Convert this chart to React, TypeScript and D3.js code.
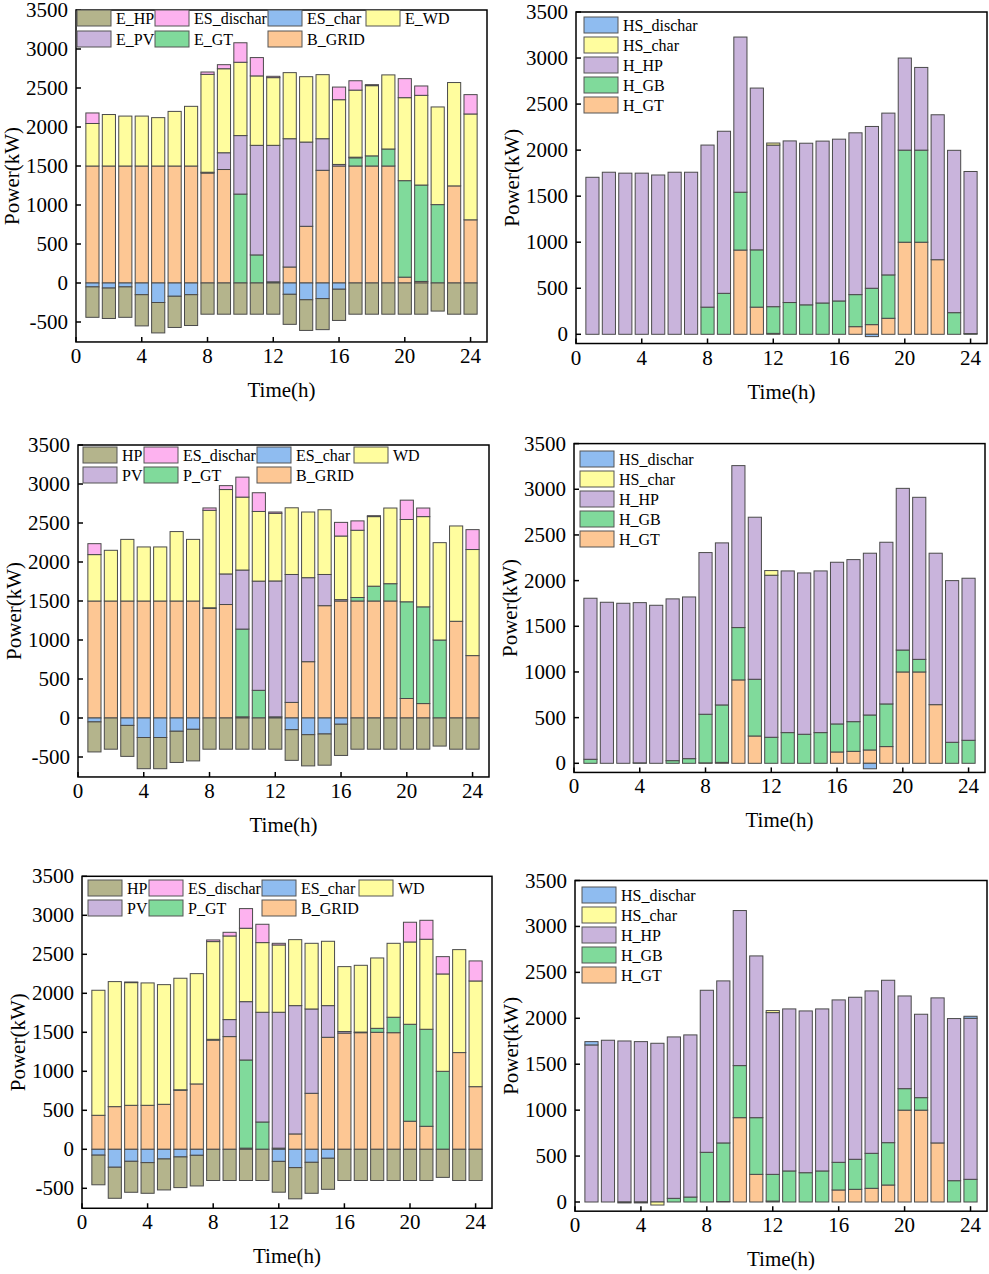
import React from 'react';
import * as d3 from 'd3';

// ---- data (kW), hours 1..24 ----
const HOURS = d3.range(1, 25);
const X_TICKS = [0, 4, 8, 12, 16, 20, 24];
const Y_TICKS_E = [-500, 0, 500, 1000, 1500, 2000, 2500, 3000, 3500];
const Y_TICKS_H = [0, 500, 1000, 1500, 2000, 2500, 3000, 3500];

// case 1 electric
const A_GRID = [1500, 1500, 1500, 1500, 1500, 1500, 1500, 1410, 1455, 0, 0, 0, 205, 727, 1445, 1500, 1500, 1500, 1500, 75, 20, 0, 1245, 810];
const A_GT = [0, 0, 0, 0, 0, 0, 0, 10, 0, 1140, 360, 15, 0, 0, 0, 0, 105, 130, 218, 1237, 1236, 1005, 0, 0];
const A_PV = [0, 0, 0, 0, 0, 0, 0, 0, 215, 750, 1405, 1750, 1645, 1080, 405, 20, 8, 0, 0, 0, 0, 0, 0, 0];
const A_WD = [545, 660, 640, 640, 620, 700, 765, 1255, 1077, 940, 890, 868, 847, 838, 821, 830, 860, 900, 950, 1064, 1150, 1252, 1325, 1357];
const A_DIS = [135, 0, 0, 0, 0, 0, 0, 30, 52, 250, 235, 17, 0, 0, 0, 162, 120, 13, 0, 244, 120, 0, 0, 248];
const A_CHAR = [-50, -65, -50, -150, -250, -170, -150, 0, 0, 0, 0, 0, -145, -215, -200, -80, 0, 0, 0, 0, 0, 0, 0, 0];
const A_HP = [-390, -390, -390, -400, -390, -400, -395, -400, -400, -400, -400, -400, -385, -393, -398, -400, -400, -400, -400, -400, -400, -360, -400, -400];

// case 1 heat
const HA_GT = [0, 0, 0, 0, 0, 0, 0, 0, 0, 915, 295, 10, 0, 0, 0, 0, 83, 105, 174, 1000, 1000, 810, 0, 0];
const HA_GB = [0, 0, 0, 0, 0, 0, 0, 295, 445, 628, 622, 290, 345, 320, 340, 362, 348, 395, 471, 1000, 1000, 0, 235, 8];
const HA_HP = [1705, 1760, 1750, 1750, 1730, 1760, 1760, 1760, 1760, 1685, 1757, 1755, 1755, 1755, 1758, 1757, 1757, 1757, 1757, 1000, 898, 1574, 1763, 1760];
const HA_CHAR = [0, 0, 0, 0, 0, 0, 0, 0, 0, 0, 0, 22, 0, 0, 0, 0, 0, 0, 0, 0, 0, 0, 0, 0];
const HA_DIS = [0, 0, 0, 0, 0, 0, 0, 0, 0, 0, 0, 0, 0, 0, 0, 0, 0, -25, 0, 0, 0, 0, 0, 0];

// case 2 electric
const B_GRID = [1500, 1500, 1500, 1500, 1500, 1500, 1500, 1405, 1455, 15, 0, 0, 200, 722, 1440, 1500, 1500, 1500, 1500, 250, 185, 0, 1240, 800];
const B_GT = [0, 0, 0, 0, 0, 0, 0, 8, 0, 1125, 355, 15, 0, 0, 0, 0, 45, 190, 222, 1240, 1240, 1000, 0, 0];
const B_PV = [0, 0, 0, 0, 0, 0, 0, 0, 392, 757, 1400, 1742, 1640, 1077, 400, 18, 0, 0, 0, 0, 0, 0, 0, 0];
const B_WD = [595, 650, 790, 693, 693, 890, 790, 1250, 1082, 935, 893, 867, 855, 842, 830, 815, 862, 892, 970, 1055, 1157, 1248, 1222, 1360];
const B_DIS = [140, 0, 0, 0, 0, 0, 0, 30, 50, 256, 240, 17, 0, 0, 0, 175, 120, 12, 0, 248, 110, 0, 0, 255];
const B_CHAR = [-50, 0, -95, -250, -250, -170, -145, 0, 0, 0, 0, 0, -150, -214, -205, -80, 0, 0, 0, 0, 0, 0, 0, 0];
const B_HP = [-385, -400, -397, -400, -400, -400, -405, -400, -400, -400, -400, -400, -393, -400, -400, -400, -400, -400, -400, -400, -400, -360, -400, -400];

// case 2 heat
const HB_GT = [0, 0, 0, 0, 0, 0, 0, 5, 10, 913, 299, 0, 0, 0, 0, 124, 131, 146, 183, 1000, 1000, 642, 0, 0];
const HB_GB = [44, 0, 0, 5, 0, 29, 51, 532, 629, 573, 621, 285, 336, 318, 336, 307, 325, 383, 467, 240, 138, 0, 230, 252];
const HB_HP = [1763, 1763, 1752, 1754, 1730, 1771, 1770, 1770, 1774, 1773, 1774, 1774, 1770, 1766, 1770, 1770, 1774, 1771, 1770, 1770, 1774, 1658, 1770, 1774];
const HB_CHAR = [0, 0, 0, 0, 0, 0, 0, 0, 0, 0, 0, 51, 0, 0, 0, 0, 0, 0, 0, 0, 0, 0, 0, 0];
const HB_DIS = [0, 0, 0, 0, 0, 0, 0, 0, 0, 0, 0, 0, 0, 0, 0, 0, 0, -60, 0, 0, 0, 0, 0, 0];

// case 3 electric
const C_GRID = [436, 547, 564, 564, 577, 758, 838, 1400, 1445, 15, 0, 0, 197, 718, 1436, 1490, 1495, 1500, 1495, 360, 295, 0, 1240, 803];
const C_GT = [0, 0, 0, 0, 0, 5, 0, 10, 0, 1130, 350, 15, 0, 0, 0, 0, 0, 51, 198, 1243, 1244, 1000, 0, 0];
const C_PV = [0, 0, 0, 0, 0, 0, 0, 0, 218, 748, 1407, 1742, 1645, 1081, 406, 20, 8, 0, 0, 0, 0, 0, 0, 0];
const C_WD = [1603, 1603, 1573, 1569, 1534, 1430, 1414, 1253, 1072, 941, 893, 863, 846, 842, 825, 832, 856, 902, 948, 1055, 1154, 1248, 1320, 1355];
const C_DIS = [0, 0, 8, 0, 0, 0, 0, 21, 47, 252, 235, 21, 0, 0, 0, 0, 0, 0, 0, 253, 243, 222, 0, 257];
const C_CHAR = [-75, -230, -154, -171, -124, -98, -77, 0, 0, 0, 0, -155, -235, -167, -115, 0, 0, 0, 0, 0, 0, 0, 0, 0];
const C_HP = [-380, -398, -397, -393, -397, -393, -393, -400, -400, -400, -400, -395, -400, -397, -398, -400, -400, -400, -400, -400, -400, -360, -400, -400];

// case 3 heat
const HC_GT = [0, 0, 0, 0, 0, 0, 0, 0, 5, 918, 301, 10, 0, 0, 0, 131, 138, 149, 185, 1000, 1000, 643, 0, 0];
const HC_GB = [0, 0, 0, 0, 0, 40, 54, 541, 638, 567, 617, 291, 338, 319, 338, 301, 327, 381, 461, 234, 136, 0, 232, 247];
const HC_HP = [1710, 1761, 1753, 1746, 1728, 1757, 1765, 1764, 1764, 1688, 1761, 1761, 1764, 1761, 1764, 1768, 1764, 1768, 1768, 1009, 908, 1579, 1765, 1753];
const HC_CHAR = [0, 0, -10, -10, -33, 0, 0, 0, 0, 0, 0, 22, 0, 0, 0, 0, 0, 0, 0, 0, 0, 0, 0, 0];
const HC_DIS = [36, 0, 0, 0, 0, 0, 0, 0, 0, 0, 0, 0, 0, 0, 0, 0, 0, 0, 0, 0, 0, 0, 0, 22];

const COL = {
    hp: '#b4b48c', dis: '#fdb2ef', char: '#8fbcf0', wd: '#fffd9e',
    pv: '#c9b4dc', gt: '#80da9b', grid: '#fdc794',
};
const FONT = '"Liberation Serif", "Times New Roman", serif';

type Series = { key: string; color: string; values: number[] };
type LegendItem = { label: string; color: string; x: number; y: number };
type Frame = { x0: number; x1: number; yTop: number; yZero: number; yMin: number };

function Panel({ f, yTicks, series, legend }: { f: Frame; yTicks: number[]; series: Series[]; legend: LegendItem[] }) {
    const yBot = f.yZero + (f.yZero - f.yTop) / 3500 * (-f.yMin);
    const x = d3.scaleLinear().domain([0, 25]).range([f.x0, f.x1]);
    const y = d3.scaleLinear().domain([f.yMin, 3500]).range([yBot, f.yTop]);
    const rows = HOURS.map((h, i) => {
        const r: any = { hour: h };
        series.forEach(s => { r[s.key] = s.values[i]; });
        return r;
    });
    const stacked = d3.stack<any>().keys(series.map(s => s.key)).offset(d3.stackOffsetDiverging)(rows);
    const half = 0.4;
    return (
        <g fontFamily={FONT}>
            {stacked.map((layer, li) => (
                <g key={layer.key} fill={series[li].color} stroke="#4a4a4a" strokeWidth={1}>
                    {layer.map((d, i) => {
                        if (d[1] - d[0] === 0) return null;
                        const h = rows[i].hour;
                        return <rect key={i} x={x(h - half)} width={x(h + half) - x(h - half)}
                            y={y(Math.max(d[0], d[1]))} height={Math.abs(y(d[0]) - y(d[1]))} />;
                    })}
                </g>
            ))}
            <rect x={f.x0} y={f.yTop} width={f.x1 - f.x0} height={yBot - f.yTop} fill="none" stroke="#000" strokeWidth={1.5} />
            {X_TICKS.map(t => (
                <g key={'x' + t}>
                    <line x1={x(t)} x2={x(t)} y1={yBot} y2={yBot - 5} stroke="#000" strokeWidth={1.5} />
                    <text x={x(t)} y={yBot + 21} fontSize={21} textAnchor="middle">{t}</text>
                </g>
            ))}
            {yTicks.map(t => (
                <g key={'y' + t}>
                    <line x1={f.x0} x2={f.x0 + 5} y1={y(t)} y2={y(t)} stroke="#000" strokeWidth={1.5} />
                    <text x={f.x0 - 8} y={y(t)} fontSize={21} textAnchor="end" dominantBaseline="central">{t}</text>
                </g>
            ))}
            <text x={(f.x0 + f.x1) / 2} y={yBot + 55} fontSize={21} textAnchor="middle">Time(h)</text>
            <text transform={`translate(${f.x0 - 57},${(f.yTop + yBot) / 2}) rotate(-90)`} fontSize={21} textAnchor="middle">Power(kW)</text>
            {legend.map(l => (
                <g key={l.label}>
                    <rect x={l.x} y={l.y} width={34} height={16} fill={l.color} stroke="#555" strokeWidth={1} />
                    <text x={l.x + 39} y={l.y + 8} fontSize={16} dominantBaseline="central">{l.label}</text>
                </g>
            ))}
        </g>
    );
}

function elecSeries(grid: number[], gt: number[], pv: number[], wd: number[], dis: number[], chr: number[], hp: number[]): Series[] {
    return [
        { key: 'grid', color: COL.grid, values: grid },
        { key: 'gt', color: COL.gt, values: gt },
        { key: 'pv', color: COL.pv, values: pv },
        { key: 'wd', color: COL.wd, values: wd },
        { key: 'dis', color: COL.dis, values: dis },
        { key: 'char', color: COL.char, values: chr },
        { key: 'hp', color: COL.hp, values: hp },
    ];
}
function heatSeries(gt: number[], gb: number[], hp: number[], chr: number[], dis: number[]): Series[] {
    return [
        { key: 'gt', color: COL.grid, values: gt },
        { key: 'gb', color: COL.gt, values: gb },
        { key: 'hp', color: COL.pv, values: hp },
        { key: 'char', color: COL.wd, values: chr },
        { key: 'dis', color: COL.char, values: dis },
    ];
}
function elecLegend(names: string[], cols: number[], r1: number, r2: number): LegendItem[] {
    const colors = [COL.hp, COL.dis, COL.char, COL.wd, COL.pv, COL.gt, COL.grid];
    return names.map((n, i) => ({ label: n, color: colors[i], x: cols[i % 4], y: i < 4 ? r1 : r2 }));
}
function heatLegend(x: number, y0: number): LegendItem[] {
    const names = ['HS_dischar', 'HS_char', 'H_HP', 'H_GB', 'H_GT'];
    const colors = [COL.char, COL.wd, COL.pv, COL.gt, COL.grid];
    return names.map((n, i) => ({ label: n, color: colors[i], x, y: y0 + i * 20 }));
}

export default function App() {
    return (
        <svg width={989} height={1274} style={{ position: 'absolute', left: 0, top: 0, background: '#fff' }}>
            <rect width={989} height={1274} fill="#fff" />
            <Panel f={{ x0: 76, x1: 487, yTop: 10, yZero: 283, yMin: -756 }} yTicks={Y_TICKS_E}
                series={elecSeries(A_GRID, A_GT, A_PV, A_WD, A_DIS, A_CHAR, A_HP)}
                legend={elecLegend(['E_HP', 'ES_dischar', 'ES_char', 'E_WD', 'E_PV', 'E_GT', 'B_GRID'], [77, 155, 268, 366], 10, 31)} />
            <Panel f={{ x0: 576, x1: 987, yTop: 12, yZero: 334.3, yMin: -100 }} yTicks={Y_TICKS_H}
                series={heatSeries(HA_GT, HA_GB, HA_HP, HA_CHAR, HA_DIS)}
                legend={heatLegend(584, 17)} />
            <Panel f={{ x0: 78, x1: 489, yTop: 445, yZero: 718, yMin: -756 }} yTicks={Y_TICKS_E}
                series={elecSeries(B_GRID, B_GT, B_PV, B_WD, B_DIS, B_CHAR, B_HP)}
                legend={elecLegend(['HP', 'ES_dischar', 'ES_char', 'WD', 'PV', 'P_GT', 'B_GRID'], [83, 144, 257, 354], 447, 467)} />
            <Panel f={{ x0: 574, x1: 985, yTop: 443.6, yZero: 763.3, yMin: -100 }} yTicks={Y_TICKS_H}
                series={heatSeries(HB_GT, HB_GB, HB_HP, HB_CHAR, HB_DIS)}
                legend={heatLegend(580, 451)} />
            <Panel f={{ x0: 82, x1: 492, yTop: 876.3, yZero: 1149.3, yMin: -756 }} yTicks={Y_TICKS_E}
                series={elecSeries(C_GRID, C_GT, C_PV, C_WD, C_DIS, C_CHAR, C_HP)}
                legend={elecLegend(['HP', 'ES_dischar', 'ES_char', 'WD', 'PV', 'P_GT', 'B_GRID'], [88, 149, 262, 359], 880, 900)} />
            <Panel f={{ x0: 575, x1: 987, yTop: 880.5, yZero: 1202, yMin: -100 }} yTicks={Y_TICKS_H}
                series={heatSeries(HC_GT, HC_GB, HC_HP, HC_CHAR, HC_DIS)}
                legend={heatLegend(582, 887)} />
        </svg>
    );
}
